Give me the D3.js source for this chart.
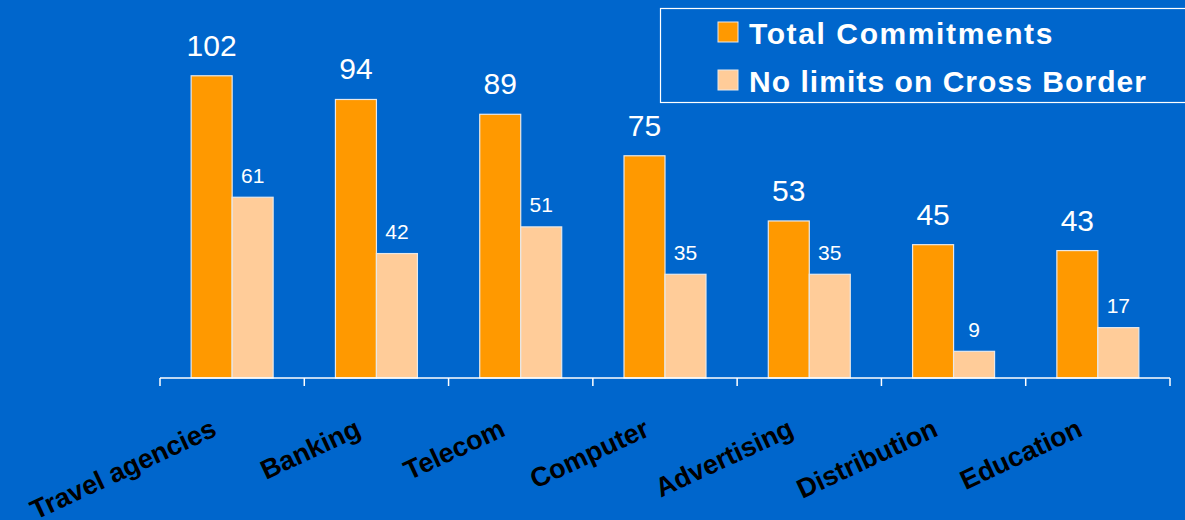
<!DOCTYPE html>
<html>
<head>
<meta charset="utf-8">
<script src="https://cdn.jsdelivr.net/npm/d3@7"></script>
<style>
  html, body { margin: 0; padding: 0; background: #0066cc; }
  svg { display: block; font-family: "Liberation Sans", Arial, sans-serif; }
</style>
</head>
<body>
<div id="viz"></div>
<script>
const categories = ['Travel agencies', 'Banking', 'Telecom', 'Computer', 'Advertising', 'Distribution', 'Education'];
const totalCommitments = [102, 94, 89, 75, 53, 45, 43];
const noLimitsCrossBorder = [61, 42, 51, 35, 35, 9, 17];
const seriesNames = ['Total Commitments', 'No limits on Cross Border'];
const seriesColors = ['#ff9900', '#ffcc99'];

const WIDTH = 1185, HEIGHT = 520;
const AXIS_Y = 378;

const svg = d3.select('#viz').append('svg')
	.attr('width', WIDTH)
	.attr('height', HEIGHT);

svg.append('rect')
	.attr('width', WIDTH)
	.attr('height', HEIGHT)
	.attr('fill', '#0066cc');

const rows = categories.map((c, i) => ({ name: c, values: [totalCommitments[i], noLimitsCrossBorder[i]] }));

const xScale = d3.scaleBand()
	.domain(categories)
	.range([160, 1170])
	.padding(0);

const subScale = d3.scaleBand()
	.domain([0, 1])
	.range([0, xScale.bandwidth()])
	.paddingInner(0)
	.paddingOuter(0.76);

const yScale = d3.scaleLinear()
	.domain([0, 120])
	.range([AXIS_Y, AXIS_Y - 120 * 2.963]);

// bars
const group = svg.append('g').attr('class', 'bars')
	.selectAll('.group')
	.data(rows)
	.enter()
	.append('g')
	.attr('class', 'group')
	.attr('transform', (d) => 'translate(' + xScale(d.name) + ',0)');

group.selectAll('.bar')
	.data((d) => d.values.map((v, k) => ({ v: v, k: k })))
	.enter()
	.append('rect')
	.attr('class', 'bar')
	.attr('x', (d) => subScale(d.k))
	.attr('y', (d) => yScale(d.v))
	.attr('width', subScale.bandwidth())
	.attr('height', (d) => AXIS_Y - yScale(d.v))
	.attr('fill', (d) => seriesColors[d.k])
	.attr('stroke', '#e8e8e8')
	.attr('stroke-width', 1.2);

// value labels
group.selectAll('.value')
	.data((d) => d.values.map((v, k) => ({ v: v, k: k })))
	.enter()
	.append('text')
	.attr('class', 'value')
	.attr('x', (d) => subScale(d.k) + subScale.bandwidth() / 2)
	.attr('y', (d) => yScale(d.v) - (d.k === 0 ? 20 : 14.5))
	.attr('text-anchor', 'middle')
	.attr('fill', '#ffffff')
	.attr('font-size', (d) => d.k === 0 ? 30 : 21)
	.text((d) => d.v);

// axis line and ticks at category boundaries
const axis = svg.append('g').attr('class', 'x axis');
axis.append('line')
	.attr('x1', xScale.range()[0])
	.attr('x2', xScale.range()[1])
	.attr('y1', AXIS_Y)
	.attr('y2', AXIS_Y)
	.attr('stroke', '#ffffff')
	.attr('stroke-width', 1.5);

const boundaries = categories.map((c) => xScale(c)).concat([xScale.range()[1]]);
axis.selectAll('.tick')
	.data(boundaries)
	.enter()
	.append('line')
	.attr('class', 'tick')
	.attr('x1', (d) => d)
	.attr('x2', (d) => d)
	.attr('y1', AXIS_Y)
	.attr('y2', AXIS_Y + 8)
	.attr('stroke', '#ffffff')
	.attr('stroke-width', 1.5);

axis.selectAll('.label')
	.data(categories)
	.enter()
	.append('text')
	.attr('class', 'label')
	.attr('transform', (d) => 'translate(' + (xScale(d) + xScale.bandwidth() / 2 - 14) + ',435) rotate(-25)')
	.attr('text-anchor', 'end')
	.attr('font-size', 27)
	.attr('font-weight', 'bold')
	.attr('fill', '#000000')
	.text((d) => d);

// legend
const legend = svg.append('g').attr('class', 'legend');
legend.append('rect')
	.attr('x', 660.5)
	.attr('y', 8.5)
	.attr('width', 540)
	.attr('height', 94)
	.attr('fill', 'none')
	.attr('stroke', '#ffffff')
	.attr('stroke-width', 1.2);

const legendItem = legend.selectAll('.legend-item')
	.data(seriesNames)
	.enter()
	.append('g')
	.attr('class', 'legend-item')
	.attr('transform', (d, i) => 'translate(718,' + (22 + i * 48) + ')');

legendItem.append('rect')
	.attr('width', 20)
	.attr('height', 20)
	.attr('fill', (d, i) => seriesColors[i])
	.attr('stroke', '#e8e8e8')
	.attr('stroke-width', 1);

legendItem.append('text')
	.attr('x', 31)
	.attr('y', 22)
	.attr('fill', '#ffffff')
	.attr('font-size', 30)
	.attr('font-weight', 'bold')
	.attr('letter-spacing', (d, i) => i === 0 ? 1.6 : 1.05)
	.text((d) => d);
</script>
</body>
</html>
